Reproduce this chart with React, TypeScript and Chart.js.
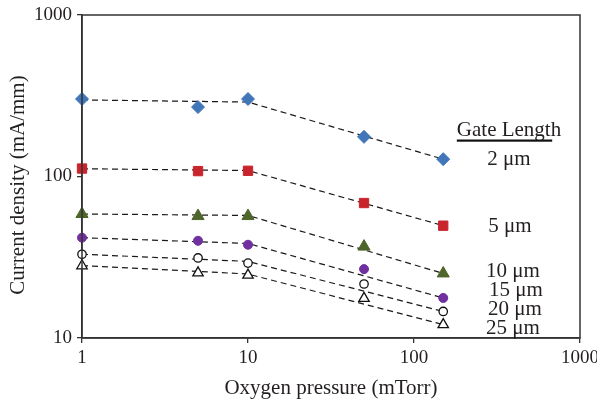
import React, { useEffect, useRef } from 'react';
import { Chart, registerables } from 'chart.js';
Chart.register(...registerables);

// ---- data ----
const pressures = [1, 5, 10, 50, 150];
const fitPressures = [1, 10, 150];
const gateLabels = ['2 μm', '5 μm', '10 μm', '15 μm', '20 μm', '25 μm'];
const j2 = [302, 269, 302, 176, 128];
const j5 = [112, 108, 108.5, 68.5, 49.6];
const j10 = [58.6, 56.9, 56.9, 36.8, 25.1];
const j15 = [41.8, 40.0, 37.8, 26.7, 17.7];
const j20 = [33.0, 31.3, 29.1, 21.6, 14.6];
const j25 = [28.0, 25.3, 24.5, 17.6, 12.1];
const fit2 = [298, 289, 128];
const fit5 = [111.7, 108.9, 49.6];
const fit10 = [58.6, 57.4, 25.1];
const fit15 = [41.8, 38.5, 17.7];
const fit20 = [33.0, 29.8, 14.6];
const fit25 = [28.1, 24.9, 12.1];
const xTicks = [1, 10, 100, 1000];
const yTicks = [10, 100, 1000];

const FONT = "'Liberation Serif', 'DejaVu Serif', serif";
const TEXT = '#231f20';
const AXIS = '#333333';

const seriesValues = [j2, j5, j10, j15, j20, j25];
const fitValues = [fit2, fit5, fit10, fit15, fit20, fit25];
const markerStyles = [
  { pointStyle: 'rectRot', radius: 6.5, bg: '#4176b9', border: '#4176b9', bw: 1 },
  { pointStyle: 'rect', radius: 6.6, bg: '#c9242c', border: '#c9242c', bw: 1 },
  { pointStyle: 'triangle', radius: 7, bg: '#4e6629', border: '#4e6629', bw: 1 },
  { pointStyle: 'circle', radius: 4.5, bg: '#7030a0', border: '#7030a0', bw: 1 },
  { pointStyle: 'circle', radius: 4.2, bg: '#ffffff', border: '#111111', bw: 1.3 },
  { pointStyle: 'triangle', radius: 6, bg: '#ffffff', border: '#111111', bw: 1.3 },
];
// label placement relative to chart area (pixels)
const labelPos = [
  { dx: -71, y: 159 },
  { dx: -70, y: 226 },
  { dx: -67, y: 271.5 },
  { dx: -64, y: 290.5 },
  { dx: -65, y: 309 },
  { dx: -67, y: 328 },
];

const annotate = {
  id: 'annotate',
  afterDraw(chart: any) {
    const { ctx, chartArea } = chart;
    ctx.save();
    ctx.strokeStyle = AXIS;
    ctx.lineWidth = 1.5;
    ctx.strokeRect(chartArea.left, chartArea.top, chartArea.right - chartArea.left, chartArea.bottom - chartArea.top);
    ctx.fillStyle = TEXT;
    ctx.textBaseline = 'middle';
    ctx.textAlign = 'center';
    ctx.font = `21px ${FONT}`;
    const hx = chartArea.right - 71;
    const hy = 130;
    ctx.fillText('Gate Length', hx, hy);
    const w = ctx.measureText('Gate Length').width;
    ctx.fillStyle = '#111';
    ctx.fillRect(hx - w / 2, hy + 9.5, w - 9, 2.2);
    ctx.fillStyle = TEXT;
    gateLabels.forEach((t, i) => {
      ctx.fillText(t, chartArea.right + labelPos[i].dx, labelPos[i].y);
    });
    ctx.translate(18, 185);
    ctx.rotate(-Math.PI / 2);
    ctx.fillText('Current density (mA/mm)', 0, 0);
    ctx.restore();
  },
};

export default function App() {
  const ref = useRef<HTMLCanvasElement>(null);
  useEffect(() => {
    if (!ref.current) return;
    const datasets: any[] = [];
    seriesValues.forEach((vals, i) => {
      const m = markerStyles[i];
      datasets.push({
        type: 'scatter',
        label: gateLabels[i],
        data: pressures.map((p, k) => ({ x: p, y: vals[k] })),
        pointStyle: m.pointStyle,
        pointRadius: m.radius,
        pointBackgroundColor: m.bg,
        pointBorderColor: m.border,
        pointBorderWidth: m.bw,
        showLine: false,
        clip: false,
      });
    });
    fitValues.forEach((vals, i) => {
      datasets.push({
        type: 'line',
        label: gateLabels[i] + ' fit',
        data: fitPressures.map((p, k) => ({ x: p, y: vals[k] })),
        borderColor: '#1a1a1a',
        borderWidth: 1.2,
        borderDash: [6, 4],
        pointRadius: 0,
        fill: false,
        tension: 0,
        clip: false,
      });
    });
    const chart = new Chart(ref.current, {
      type: 'scatter',
      data: { datasets },
      options: {
        responsive: false,
        animation: false,
        layout: { padding: { top: 15, right: 17, left: 0, bottom: 0 } },
        plugins: { legend: { display: false }, tooltip: { enabled: false } },
        scales: {
          x: {
            type: 'logarithmic',
            min: 1,
            max: 1000,
            afterBuildTicks: (s: any) => { s.ticks = xTicks.map((v) => ({ value: v })); },
            afterFit: (s: any) => { s.height = 66; s.paddingLeft = 0; s.paddingRight = 0; },
            ticks: {
              callback: (v: any) => String(v),
              font: { family: FONT, size: 19 },
              color: TEXT,
              maxRotation: 0,
              autoSkip: false,
              padding: 4,
            },
            grid: { drawOnChartArea: false, drawTicks: true, tickLength: 5, color: AXIS, lineWidth: 1.3 },
            border: { color: AXIS, width: 1.5 },
            title: {
              display: true,
              text: 'Oxygen pressure (mTorr)',
              font: { family: FONT, size: 21 },
              color: TEXT,
              padding: { top: 0, bottom: 3 },
            },
          },
          y: {
            type: 'logarithmic',
            min: 10,
            max: 1000,
            afterBuildTicks: (s: any) => { s.ticks = yTicks.map((v) => ({ value: v })); },
            afterFit: (s: any) => { s.width = 82; s.paddingTop = 0; s.paddingBottom = 0; },
            ticks: {
              callback: (v: any) => String(v),
              font: { family: FONT, size: 19 },
              color: TEXT,
              autoSkip: false,
              padding: 5,
            },
            grid: { drawOnChartArea: false, drawTicks: true, tickLength: 5, color: AXIS, lineWidth: 1.3 },
            border: { color: AXIS, width: 1.5 },
          },
        },
      } as any,
      plugins: [annotate],
    });
    return () => chart.destroy();
  }, []);
  return (
    <div style={{ position: 'fixed', left: 0, top: 0, width: 597, height: 404, background: '#fff' }}>
      <canvas ref={ref} width={597} height={404} />
    </div>
  );
}
